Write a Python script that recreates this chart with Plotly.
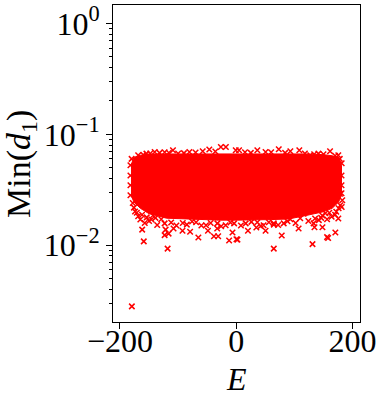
import plotly.graph_objects as go

band_e = [-181, -176, -165, -150, -120, -90, -60, -30, 0, 30, 60, 90, 120, 150, 165, 176, 181]
band_high = [0.0526, 0.0619, 0.0647, 0.0665, 0.0665, 0.0665, 0.0669, 0.0673, 0.0669, 0.0669, 0.0669, 0.0669, 0.0665, 0.0655, 0.0640, 0.0619, 0.0526]
band_low = [0.0282, 0.0245, 0.0215, 0.0192, 0.0175, 0.0172, 0.0170, 0.0168, 0.0168, 0.0168, 0.0170, 0.0172, 0.0185, 0.0200, 0.0215, 0.0245, 0.0282]

# points on the upper fringe
top_e = [-168.7, -154.5, -140.3, -123.2, -108.9, -80.6, -57.7, -46.4, -26.5, -17.9, -0.9, 4.8,
         36.2, 50.4, 73.1, 93.0, 108.4, 127.2, 141.3, 161.3, 175.5, 181.3,
         -160, -148, -132, -116, -100, -90, -70, -36, 15, 25, 60, 84, 118, 134, 150, 170]
top_d = [0.0647, 0.0669, 0.0692, 0.0688, 0.0718, 0.0692, 0.0702, 0.0729, 0.0768, 0.0768, 0.0718, 0.0718,
         0.0718, 0.0692, 0.0733, 0.0702, 0.0718, 0.0647, 0.0669, 0.0702, 0.0647, 0.0548,
         0.0655, 0.0672, 0.0680, 0.0682, 0.0670, 0.0676, 0.0684, 0.0700, 0.0690, 0.0680, 0.0688, 0.0680, 0.0672, 0.0660, 0.0660, 0.0640]

# points on the left and right sides
side_e = [-182, -182, -182, -182, -178, -180, 181, 181, 181, 179, 178]
side_d = [0.0526, 0.0425, 0.0347, 0.0282, 0.0240, 0.0600, 0.0425, 0.0347, 0.0294, 0.0229, 0.0600]

# points on the lower fringe
fringe_e = [-168.7, -157.4, -174.1, -143.1, -129, -123.2, -92, -69.1, -52, -32.5, -18.3, -3.7,
            16.2, 36.2, 46.9, 64.5, 81.6, 93, 115.7, 135.6, 133, 156.2, 153.3, 181.3, 182.3, 178.4,
            -165, -150, -136, -112, -103, -85, -76, -60, -44, -26, -10, 8, 26, 42, 56, 72, 88, 102, 110, 124, 142, 148, 164, 172,
            -176, -171, -162, -154, -146, -139, 176, 170, 160, 146]
fringe_d = [0.0182, 0.0158, 0.0201, 0.0186, 0.0171, 0.0157, 0.0158, 0.0161, 0.0151, 0.0157, 0.0151, 0.0157,
            0.0157, 0.0161, 0.0151, 0.0157, 0.0157, 0.0171, 0.0192, 0.0174, 0.0157, 0.0171, 0.0194, 0.0221, 0.0254, 0.0291,
            0.0170, 0.0165, 0.0152, 0.0160, 0.0150, 0.0153, 0.0163, 0.0150, 0.0158, 0.0148, 0.0160, 0.0150, 0.0162, 0.0149, 0.0161, 0.0152, 0.0164, 0.0158, 0.0175, 0.0165, 0.0168, 0.0185, 0.0180, 0.0200,
            0.0218, 0.0196, 0.0188, 0.0178, 0.0170, 0.0176, 0.0215, 0.0188, 0.0196, 0.0176]

# isolated points under the cloud
low_e = [-179.6, -161.8, -159.1, -118.1, -121.5, -123.2, -116.4, -107.9, -92.5, -79.4, -65.2, -48.7,
         -38.4, -31.1, -32.8, -12.3, 0.3, -6.5, 2.0, 20.1, 34.5, 50.4, 64.5, 78.2, 64.5, 107.2,
         131.1, 134.5, 148.2, 156.2, 158.0, 170.4, 175.5]
low_d = [0.00280, 0.0138, 0.0108, 0.0093, 0.0138, 0.0123, 0.0127, 0.0141, 0.0135, 0.0132, 0.0117, 0.0135,
         0.0120, 0.0120, 0.0141, 0.0110, 0.0113, 0.0130, 0.0112, 0.0135, 0.0144, 0.0135, 0.0153, 0.0122, 0.0093, 0.0141,
         0.0102, 0.0145, 0.0145, 0.0118, 0.0116, 0.0130, 0.0174]

y_ticks = [0.01, 0.1, 1]
y_labels = ['10<sup>\u22122</sup>', '10<sup>\u22121</sup>', '10<sup>0</sup>']
y_minor = [0.002, 0.003, 0.004, 0.005, 0.006, 0.007, 0.008, 0.009,
           0.02, 0.03, 0.04, 0.05, 0.06, 0.07, 0.08, 0.09,
           0.2, 0.3, 0.4, 0.5, 0.6, 0.7, 0.8, 0.9]

RED = '#ff0000'
FONT = 'Liberation Serif'

fig = go.Figure()

fig.add_trace(go.Scatter(
    x=band_e + band_e[::-1],
    y=band_high + band_low[::-1],
    mode='lines',
    fill='toself',
    fillcolor=RED,
    line=dict(color=RED, width=1),
    hoverinfo='skip',
))

fig.add_trace(go.Scatter(
    x=top_e + side_e + fringe_e + low_e,
    y=top_d + side_d + fringe_d + low_d,
    mode='markers',
    marker=dict(symbol='x-thin', size=5.5, color=RED, line=dict(color=RED, width=1.5)),
))

fig.update_layout(
    width=380,
    height=400,
    showlegend=False,
    paper_bgcolor='white',
    plot_bgcolor='white',
    font=dict(family=FONT, color='black', size=32),
    margin=dict(l=112.5, r=19.5, t=4.5, b=78, pad=0),
)

# axis titles placed by hand, plotly ignores standoff once automargin is off
fig.add_annotation(text='<i>E</i>', xref='paper', yref='paper', x=0.5, y=-0.18,
                   xanchor='center', yanchor='middle', showarrow=False, font=dict(size=32))
fig.add_annotation(text='Min(<i>d</i><sub>1</sub>)', xref='paper', yref='paper', x=-0.375, y=0.5,
                   xanchor='center', yanchor='middle', textangle=-90, showarrow=False, font=dict(size=34))

fig.update_xaxes(
    range=[-212, 212.8],
    tickvals=[-200, 0, 200],
    ticktext=['\u2212200', '0', '200'],
    ticks='outside',
    ticklen=6,
    tickwidth=1,
    tickcolor='black',
    ticklabelstandoff=-15,
    showgrid=False,
    zeroline=False,
    showline=True,
    linecolor='black',
    linewidth=1,
    mirror=True,
    automargin=False,
)

fig.update_yaxes(
    type='log',
    range=[-2.694, 0.167],
    tickvals=y_ticks,
    ticktext=y_labels,
    ticks='outside',
    ticklen=6,
    tickwidth=1,
    tickcolor='black',
    minor=dict(tickvals=y_minor, ticks='outside', ticklen=3.5, tickwidth=1, tickcolor='black', showgrid=False),
    showgrid=False,
    zeroline=False,
    showline=True,
    linecolor='black',
    linewidth=1,
    mirror=True,
    automargin=False,
)

fig.write_html(
    "out.html",
    config=dict(displayModeBar=False),
    post_script="document.body.style.margin='0';document.documentElement.style.overflow='hidden';",
)
